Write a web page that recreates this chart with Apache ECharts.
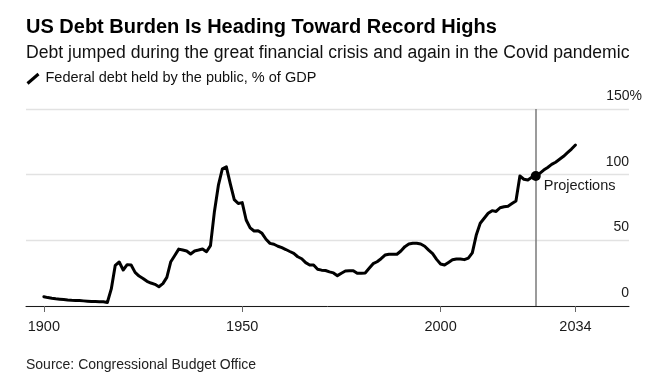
<!DOCTYPE html>
<html>
<head>
<meta charset="utf-8">
<script src="https://cdn.jsdelivr.net/npm/echarts@6/dist/echarts.min.js"></script>
<style>
html,body{margin:0;padding:0;background:#fff;}
#chart{width:652px;height:381px;}
</style>
</head>
<body>
<div id="chart"></div>
<script>
const titleText = 'US Debt Burden Is Heading Toward Record Highs';
const subtitleText = 'Debt jumped during the great financial crisis and again in the Covid pandemic';
const legendText = 'Federal debt held by the public, % of GDP';
const sourceText = 'Source: Congressional Budget Office';
const projectionLabel = 'Projections';
const projectionYear = 2024;

const years = [
1900,1901,1902,1903,1904,1905,1906,1907,1908,1909,
1910,1911,1912,1913,1914,1915,1916,1917,1918,1919,
1920,1921,1922,1923,1924,1925,1926,1927,1928,1929,
1930,1931,1932,1933,1934,1935,1936,1937,1938,1939,
1940,1941,1942,1943,1944,1945,1946,1947,1948,1949,
1950,1951,1952,1953,1954,1955,1956,1957,1958,1959,
1960,1961,1962,1963,1964,1965,1966,1967,1968,1969,
1970,1971,1972,1973,1974,1975,1976,1977,1978,1979,
1980,1981,1982,1983,1984,1985,1986,1987,1988,1989,
1990,1991,1992,1993,1994,1995,1996,1997,1998,1999,
2000,2001,2002,2003,2004,2005,2006,2007,2008,2009,
2010,2011,2012,2013,2014,2015,2016,2017,2018,2019,
2020,2021,2022,2023,2024,2025,2026,2027,2028,2029,
2030,2031,2032,2033,2034];

const debtPctGdp = [
7.1,6.4,5.9,5.5,5.2,4.9,4.5,4.3,4.2,4.1,
3.9,3.7,3.5,3.4,3.3,3.2,2.7,13,31,33.5,
27.4,31.5,31.2,25.6,22.8,21,18.8,17.5,16.5,14.7,
17,21.8,33.7,38.5,43.3,42.6,41.9,39.6,41.9,42.6,
43.4,41.3,46,72,92,104.5,106,93,81,78,
78.7,65.5,59.5,57.1,57.3,55.3,50.8,47.7,47,45.5,
44.4,43,41.5,40.1,37.5,36,33,31.2,31.2,28,
27.3,27,26,25.2,23.1,24.9,26.6,26.9,26.9,24.9,
24.9,25.2,28.7,32.2,33.7,36,38.8,39.4,39.4,39.4,
41.9,45.2,47.2,47.7,47.7,47.2,45.5,42.5,39.8,35.5,
32,31.2,33.2,35.2,35.8,35.8,35.3,36.5,40.5,54,
63,66.8,70.6,72.6,72,74.8,75.6,76,78,80,
99,96.5,96,98,99,101,103.5,105.5,107.8,109.5,
111.7,114,116.7,119.5,122.6];

const xTicks = [1900, 1950, 2000, 2034];
const yTicks = [0, 50, 100, 150];

const lineData = years.map((y, i) => [y, debtPctGdp[i]]);
const dotData = [[projectionYear, debtPctGdp[years.indexOf(projectionYear)]]];

const chart = echarts.init(document.getElementById('chart'), null, {renderer: 'canvas'});
const FONT = '"Liberation Sans", Arial, Helvetica, sans-serif';

chart.setOption({
  animation: false,
  backgroundColor: '#fff',
  textStyle: {fontFamily: FONT},
  grid: {left: 26, right: 23, top: 109, bottom: 75, containLabel: false},
  xAxis: {
    type: 'value',
    min: 1895.5,
    max: 2047.5,
    z: 5,
    splitLine: {show: false},
    axisLine: {show: true, lineStyle: {color: '#1a1a1a', width: 1}},
    axisTick: {show: true, customValues: xTicks, length: 6, lineStyle: {color: '#666', width: 1}},
    axisLabel: {customValues: xTicks, formatter: v => String(v), fontSize: 14.5, color: '#1a1a1a', margin: 13, fontFamily: FONT}
  },
  yAxis: {
    type: 'value',
    position: 'right',
    min: 0,
    max: 150,
    interval: 50,
    axisLine: {show: false},
    axisTick: {show: false},
    splitLine: {show: true, lineStyle: {color: '#e2e2e2', width: 1.3}},
    axisLabel: {
      inside: true,
      margin: -13,
      verticalAlign: 'bottom',
      padding: [0, 0, 6, 0],
      fontSize: 14,
      color: '#1a1a1a',
      fontFamily: FONT,
      formatter: v => v === 150 ? '{n|150}{p|%}' : '{n|' + v + '}{s|}',
      rich: {
        n: {fontSize: 14, color: '#1a1a1a', fontFamily: FONT},
        p: {fontSize: 14, color: '#1a1a1a', fontFamily: FONT},
        s: {width: 13, fontSize: 14}
      }
    }
  },
  series: [
    {
      type: 'line',
      data: lineData,
      symbol: 'none',
      z: 3,
      lineStyle: {color: '#000', width: 3, cap: 'round', join: 'round'},
      markLine: {
        silent: true,
        z: 2,
        symbol: 'none',
        label: {show: false},
        lineStyle: {color: '#7a7a7a', width: 1.5, type: 'solid', opacity: 1},
        data: [{xAxis: projectionYear}]
      }
    },
    {
      type: 'scatter',
      data: dotData,
      symbolSize: 10,
      z: 6,
      itemStyle: {color: '#000', opacity: 1},
      label: {
        show: true,
        formatter: projectionLabel,
        position: [13, 15],
        align: 'left',
        verticalAlign: 'middle',
        fontSize: 14.5,
        color: '#1a1a1a',
        opacity: 1,
        fontFamily: FONT
      }
    }
  ],
  graphic: [
    {type: 'text', left: 26, top: 17, style: {text: titleText, font: 'bold 20px ' + FONT, fill: '#000'}},
    {type: 'text', left: 26, top: 44, style: {text: subtitleText, font: '17.6px ' + FONT, fill: '#111'}},
    {type: 'line', shape: {x1: 27.5, y1: 83.5, x2: 38.5, y2: 74}, style: {stroke: '#000', lineWidth: 3, lineCap: 'butt'}},
    {type: 'text', left: 45.5, top: 70, style: {text: legendText, font: '14.5px ' + FONT, fill: '#111'}},
    {type: 'text', left: 26, top: 358, style: {text: sourceText, font: '14px ' + FONT, fill: '#222'}}
  ]
});
</script>
</body>
</html>
